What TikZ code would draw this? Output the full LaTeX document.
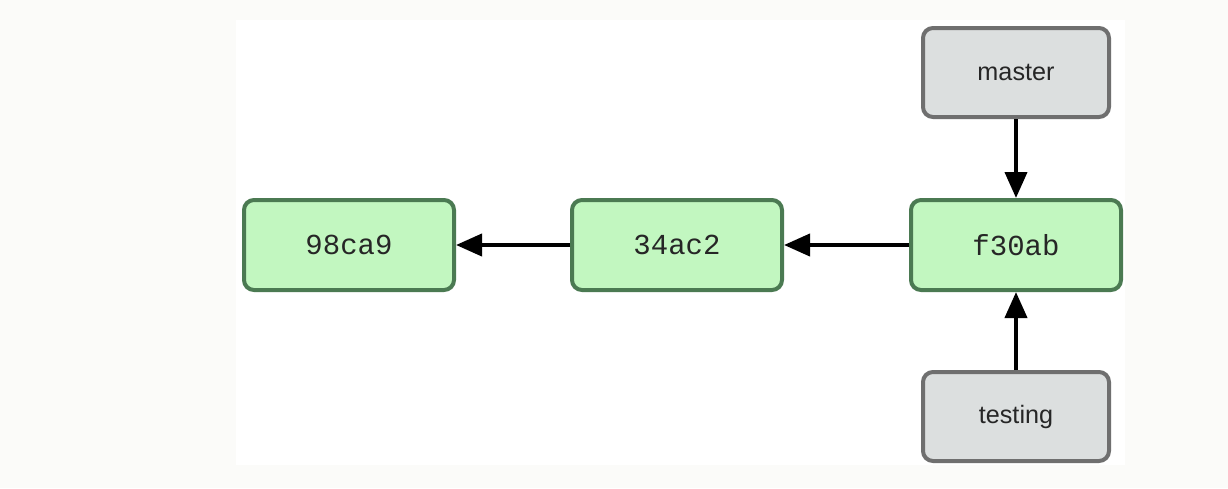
\documentclass[tikz,border=0pt]{standalone}
\usepackage{fontspec}
\setmainfont{Liberation Sans}
\setmonofont{Liberation Mono}
\usetikzlibrary{positioning,arrows.meta}
\definecolor{commitfill}{HTML}{C2F7C0}
\definecolor{commitline}{HTML}{4B7A52}
\definecolor{branchfill}{HTML}{DCDFDF}
\definecolor{branchline}{HTML}{6F6F6F}
\definecolor{pagebg}{HTML}{FBFBF9}
\tikzset {
commit/.style={shape=rectangle,draw=commitline,fill=commitfill,line width=2pt,rounded corners=5pt,minimum width=105pt,minimum height=45pt,font=\ttfamily\fontsize{14.5}{16}\selectfont,text=black!85},
branch/.style={shape=rectangle,draw=branchline,fill=branchfill,line width=2pt,rounded corners=5pt,minimum width=93pt,minimum height=44.5pt,font=\fontsize{12.6}{14}\selectfont,text=black!85}
}
\begin{document}
\begin{tikzpicture}
[x=0.5pt,y=-0.5pt,>={Triangle[length=13pt,width=11pt]},node distance=39.5pt]
\fill[pagebg] (0,0) rectangle (1228,488);
\fill[white] (236,20) rectangle (1125,465);
\useasboundingbox (0,0) rectangle (1228,488);
\node[commit] (c98ca9) at (349,245) {98ca9};
\node[commit] (c34ac2) at (677,245) {34ac2};
\node[commit] (cf30ab) at (1016,245) {f30ab};
\node[branch] (master) [above=of cf30ab] {master};
\node[branch] (testing) [below=39pt of cf30ab] {testing};

\draw[->,line width=2pt] (c34ac2) to (c98ca9);
\draw[->,line width=2pt] (cf30ab) to (c34ac2);
\draw[->,line width=2pt] (master) to (cf30ab);
\draw[->,line width=2pt] (testing) to (cf30ab);
\end{tikzpicture}
\end{document}
